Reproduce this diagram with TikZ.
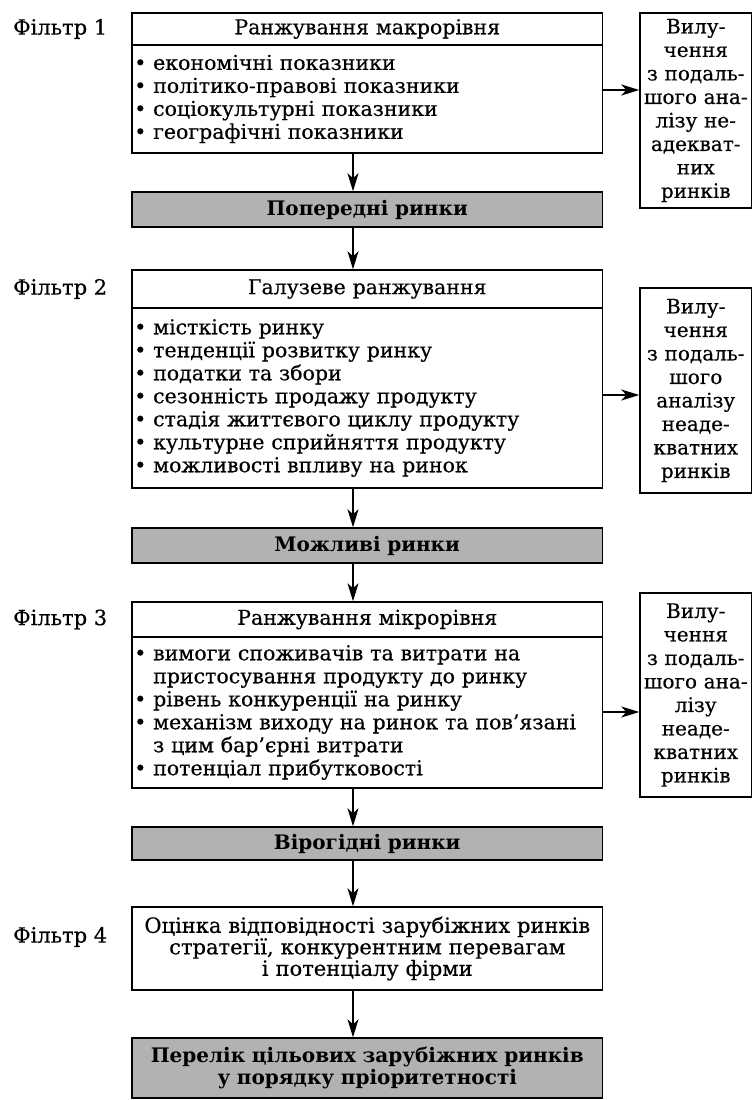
\documentclass[tikz,border=0pt]{standalone}
\usepackage{fontspec}
\setmainfont{DejaVu Serif}[UprightFeatures={FakeBold=0.4}]
\usetikzlibrary{arrows.meta}
\begin{document}
\begin{tikzpicture}[x=1pt,y=-1pt,
  every node/.style={font=\fontsize{20.5}{23}\selectfont},
  frame/.style={draw, line width=1.4pt, inner sep=0pt},
  hdr/.style={frame, minimum width=470.5pt, text width=466pt, align=center},
  body/.style={frame, minimum width=470.5pt, text width=466pt, inner xsep=2.25pt, align=left},
  shade/.style={frame, fill=black!30, minimum width=470.5pt, text width=466pt, align=center, font=\bfseries\fontsize{20}{22}\selectfont},
  side/.style={frame, minimum width=111.5pt, text width=110pt, align=center, font=\fontsize{20}{23.5}\selectfont},
  lbl/.style={anchor=west, inner sep=0pt, font=\fontsize{21}{23}\selectfont},
  arr/.style={line width=1.2pt, -{Stealth[length=18pt,width=11pt,inset=5pt]}},
  rarr/.style={line width=2pt, -{Stealth[length=18pt,width=11pt,inset=5pt]}},
]
\useasboundingbox (0,0) rectangle (753,1100);
\fill[white] (0,0) rectangle (753,1100);

\coordinate (ax) at (353,0);
\coordinate (a1) at (0,90);
\coordinate (a2) at (0,395);
\coordinate (a3) at (0,712);

% Filter 1
\node[lbl] (l1) at (13,29) {Фільтр 1};
\node[hdr, minimum height=32pt] (h1) at (367.25,29) {Ранжування макрорівня};
\node[body, minimum height=108pt] (b1) at (367.25,99) {• економічні показники\\• політико-правові показники\\• соціокультурні показники\\• географічні показники};
\node[side, minimum height=195pt] (r1) at (695.75,110.5) {Вилу-\\чення\\з подаль-\\шого ана-\\лізу не-\\адекват-\\них\\ринків};
\node[shade, minimum height=35pt] (s1) at (367.25,209.5) {Попередні ринки};

% Filter 2
\node[lbl] (l2) at (13,289) {Фільтр 2};
\node[hdr, minimum height=38pt] (h2) at (367.25,289) {Галузеве ранжування};
\node[body, minimum height=180pt] (b2) at (367.25,398) {• місткість ринку\\• тенденції розвитку ринку\\• податки та збори\\• сезонність продажу продукту\\• стадія життєвого циклу продукту\\• культурне сприйняття продукту\\• можливості впливу на ринок};
\node[side, minimum height=205pt] (r2) at (695.75,390.5) {Вилу-\\чення\\з подаль-\\шого\\аналізу\\неаде-\\кватних\\ринків};
\node[shade, minimum height=35pt] (s2) at (367.25,545.5) {Можливі ринки};

% Filter 3
\node[lbl] (l3) at (13,619.5) {Фільтр 3};
\node[hdr, minimum height=35pt] (h3) at (367.25,619.5) {Ранжування мікрорівня};
\node[body, minimum height=151pt] (b3) at (367.25,712.5) {• вимоги споживачів та витрати на\\\phantom{• }пристосування продукту до ринку\\• рівень конкуренції на ринку\\• механізм виходу на ринок та пов’язані\\\phantom{• }з цим бар’єрні витрати\\• потенціал прибутковості};
\node[side, minimum height=204pt] (r3) at (695.75,695) {Вилу-\\чення\\з подаль-\\шого ана-\\лізу\\неаде-\\кватних\\ринків};
\node[shade, minimum height=33pt] (s3) at (367.25,843.5) {Вірогідні ринки};

% Filter 4
\node[lbl] (l4) at (13,937) {Фільтр 4};
\node[hdr, minimum height=83pt, font=\fontsize{21}{21.5}\selectfont] (f4) at (367.25,948.5) {Оцінка відповідності зарубіжних ринків\\стратегії, конкурентним перевагам\\і потенціалу фірми};
\node[shade, minimum height=60pt] (s4) at (367.25,1068) {Перелік цільових зарубіжних ринків\\у порядку пріоритетності};

% connectors
\draw[arr] (b1.south -| ax) -- (s1.north -| ax);
\draw[arr] (s1.south -| ax) -- (h2.north -| ax);
\draw[arr] (b2.south -| ax) -- (s2.north -| ax);
\draw[arr] (s2.south -| ax) -- (h3.north -| ax);
\draw[arr] (b3.south -| ax) -- (s3.north -| ax);
\draw[arr] (s3.south -| ax) -- (f4.north -| ax);
\draw[arr] (f4.south -| ax) -- (s4.north -| ax);
\draw[rarr] (b1.east |- a1) -- (r1.west |- a1);
\draw[rarr] (b2.east |- a2) -- (r2.west |- a2);
\draw[rarr] (b3.east |- a3) -- (r3.west |- a3);
\end{tikzpicture}
\end{document}
